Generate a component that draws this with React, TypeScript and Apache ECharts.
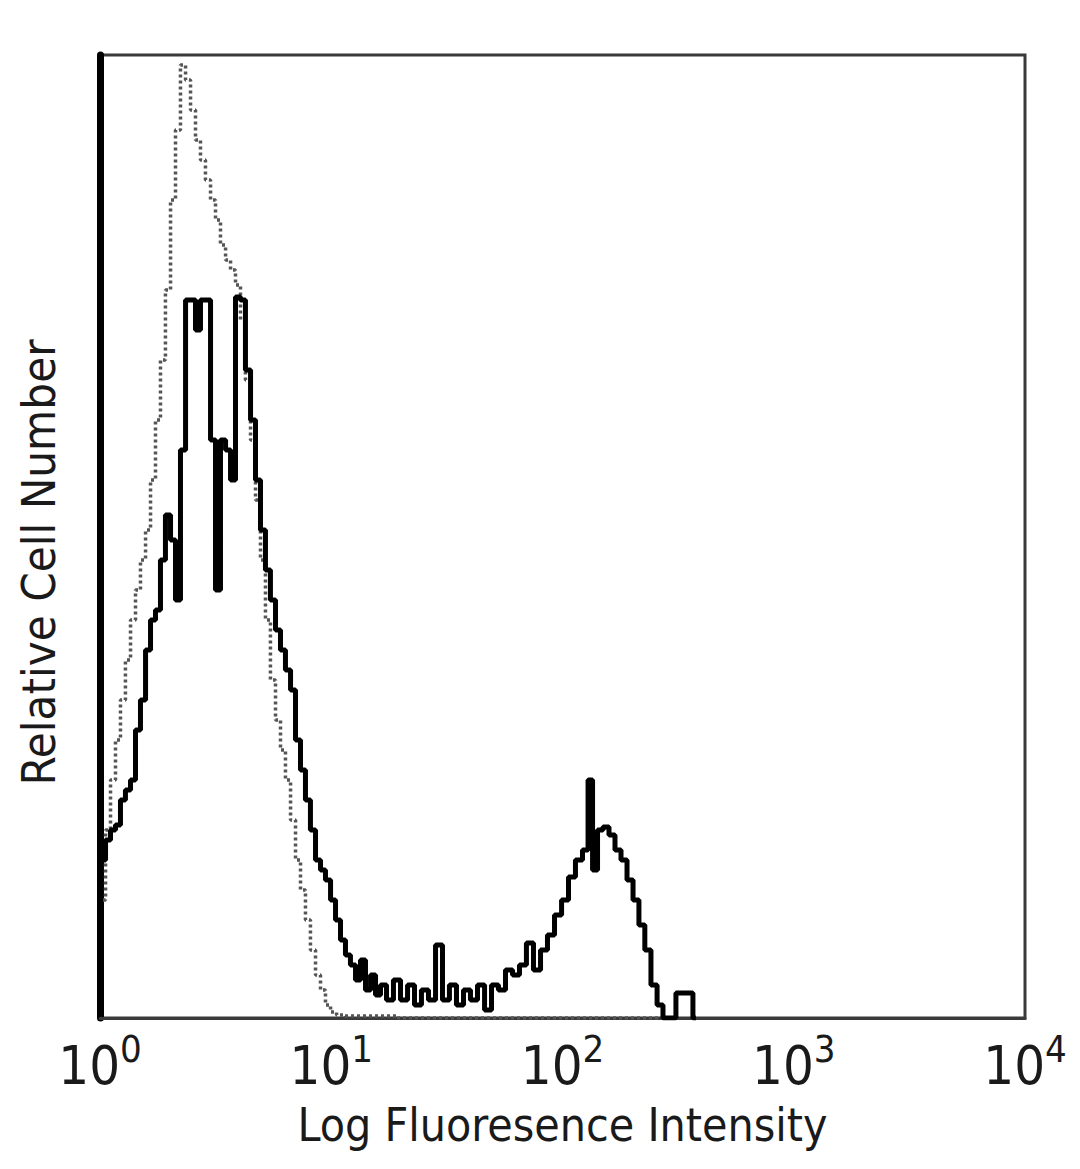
import React, { useEffect, useRef } from "react";
import * as echarts from "echarts";

// x values are log10 of fluorescence intensity (decades), y values are cell counts per bin
const stainedX = [
  0.013, 0.035, 0.056, 0.078, 0.099, 0.121, 0.143, 0.164, 0.186, 0.208, 0.229, 0.251,
  0.272, 0.294, 0.316, 0.337, 0.359, 0.381, 0.402, 0.424, 0.445, 0.467, 0.489, 0.51,
  0.532, 0.554, 0.575, 0.597, 0.618, 0.64, 0.662, 0.683, 0.705, 0.726, 0.748, 0.77,
  0.791, 0.813, 0.835, 0.856, 0.878, 0.899, 0.921, 0.943, 0.964, 0.986, 1.008, 1.029,
  1.051, 1.072, 1.094, 1.116, 1.137, 1.159, 1.181, 1.202, 1.224, 1.254, 1.284, 1.315,
  1.345, 1.375, 1.405, 1.436, 1.466, 1.496, 1.526, 1.557, 1.587, 1.617, 1.648, 1.678,
  1.708, 1.738, 1.769, 1.799, 1.829, 1.859, 1.89, 1.92, 1.95, 1.981, 2.011, 2.041,
  2.071, 2.102, 2.119, 2.141, 2.162, 2.188, 2.214, 2.24, 2.266, 2.292, 2.318, 2.343,
  2.369, 2.396, 2.422, 2.447, 2.473, 2.508, 2.551, 2.577,
];
const stainedY = [
  158, 178, 188, 193, 218, 228, 238, 288, 318, 368, 398, 408,
  458, 503, 478, 418, 568, 718, 718, 688, 718, 718, 578, 428,
  578, 568, 538, 721, 718, 648, 598, 538, 488, 448, 418, 388,
  368, 348, 328, 278, 248, 218, 188, 158, 148, 138, 118, 98,
  78, 63, 53, 38, 58, 28, 43, 23, 33, 18, 38, 18,
  33, 13, 28, 18, 73, 18, 33, 13, 28, 18, 33, 8,
  33, 28, 48, 43, 53, 75, 48, 68, 83, 103, 118, 141,
  158, 168, 238, 148, 188, 191, 183, 168, 158, 138, 118, 93,
  68, 33, 13, 0, 0, 25, 25, 0,
];

const controlX = [
  0.013, 0.035, 0.056, 0.078, 0.099, 0.121, 0.143, 0.164, 0.186, 0.208, 0.229, 0.251,
  0.272, 0.294, 0.316, 0.337, 0.359, 0.381, 0.402, 0.424, 0.445, 0.467, 0.489, 0.51,
  0.532, 0.554, 0.575, 0.597, 0.618, 0.64, 0.662, 0.683, 0.705, 0.726, 0.748, 0.77,
  0.791, 0.813, 0.835, 0.856, 0.878, 0.899, 0.921, 0.943, 0.964, 0.986, 1.008, 1.038,
  1.081, 1.5, 2.0, 2.45,
];
const controlY = [
  118, 188, 238, 278, 318, 358, 398, 428, 458, 488, 538, 598,
  658, 728, 818, 888, 953, 938, 908, 878, 858, 838, 818, 798,
  773, 758, 748, 733, 698, 638, 578, 518, 458, 398, 338, 298,
  268, 238, 198, 158, 128, 98, 68, 43, 28, 13, 6, 3,
  2, 0, 0, 0,
];

const decadeTicks = [0, 1, 2, 3, 4];
const xTitle = "Log Fluoresence Intensity";
const yTitle = "Relative Cell Number";

const FONT = "'DejaVu Sans Condensed', 'DejaVu Sans', sans-serif";

export default function App() {
  const ref = useRef<HTMLDivElement>(null);
  useEffect(() => {
    if (!ref.current) return;
    const chart = echarts.init(ref.current, null, { renderer: "svg" });
    const stained = stainedX.map((x, i) => [x, stainedY[i]]);
    const control = controlX.map((x, i) => [x, controlY[i]]);
    chart.setOption({
      animation: false,
      backgroundColor: "#ffffff",
      grid: {
        left: 100,
        right: 55,
        top: 55,
        bottom: 151,
        show: true,
        borderColor: "#3a3a3a",
        borderWidth: 3,
      },
      xAxis: {
        type: "value",
        min: 0,
        max: 4,
        interval: 1,
        name: xTitle,
        nameLocation: "middle",
        nameGap: 84,
        nameTextStyle: { fontFamily: FONT, fontSize: 46, color: "#1a1a1a" },
        axisLine: { show: true, lineStyle: { color: "#3a3a3a", width: 3 } },
        axisTick: { show: false },
        splitLine: { show: false },
        axisLabel: {
          margin: 12,
          formatter: (v: number) =>
            decadeTicks.includes(v) ? `{b|10}{s|${v}}` : "",
          rich: {
            b: { fontFamily: FONT, fontSize: 54, color: "#1a1a1a", verticalAlign: "bottom" },
            s: {
              fontFamily: FONT,
              fontSize: 38,
              color: "#1a1a1a",
              verticalAlign: "top",
              padding: [0, 0, 24, 0],
            },
          },
        },
      },
      yAxis: {
        type: "value",
        min: 0,
        max: 963,
        name: yTitle,
        nameLocation: "middle",
        nameGap: 38,
        nameTextStyle: {
          fontFamily: FONT,
          fontSize: 47,
          color: "#1a1a1a",
          padding: [0, 52, 0, 0],
        },
        axisLine: { show: true, lineStyle: { color: "#000000", width: 7 } },
        axisTick: { show: false },
        axisLabel: { show: false },
        splitLine: { show: false },
      },
      series: [
        {
          name: "Control",
          type: "line",
          step: "middle",
          data: control,
          symbol: "none",
          lineStyle: { color: "#555555", width: 3.5, type: [3, 3] },
          z: 2,
        },
        {
          name: "Stained",
          type: "line",
          step: "middle",
          data: stained,
          symbol: "none",
          lineStyle: { color: "#000000", width: 5 },
          z: 3,
        },
      ],
    });
    return () => chart.dispose();
  }, []);
  return (
    <div
      ref={ref}
      style={{ position: "fixed", left: 0, top: 0, width: 1080, height: 1169 }}
    />
  );
}
